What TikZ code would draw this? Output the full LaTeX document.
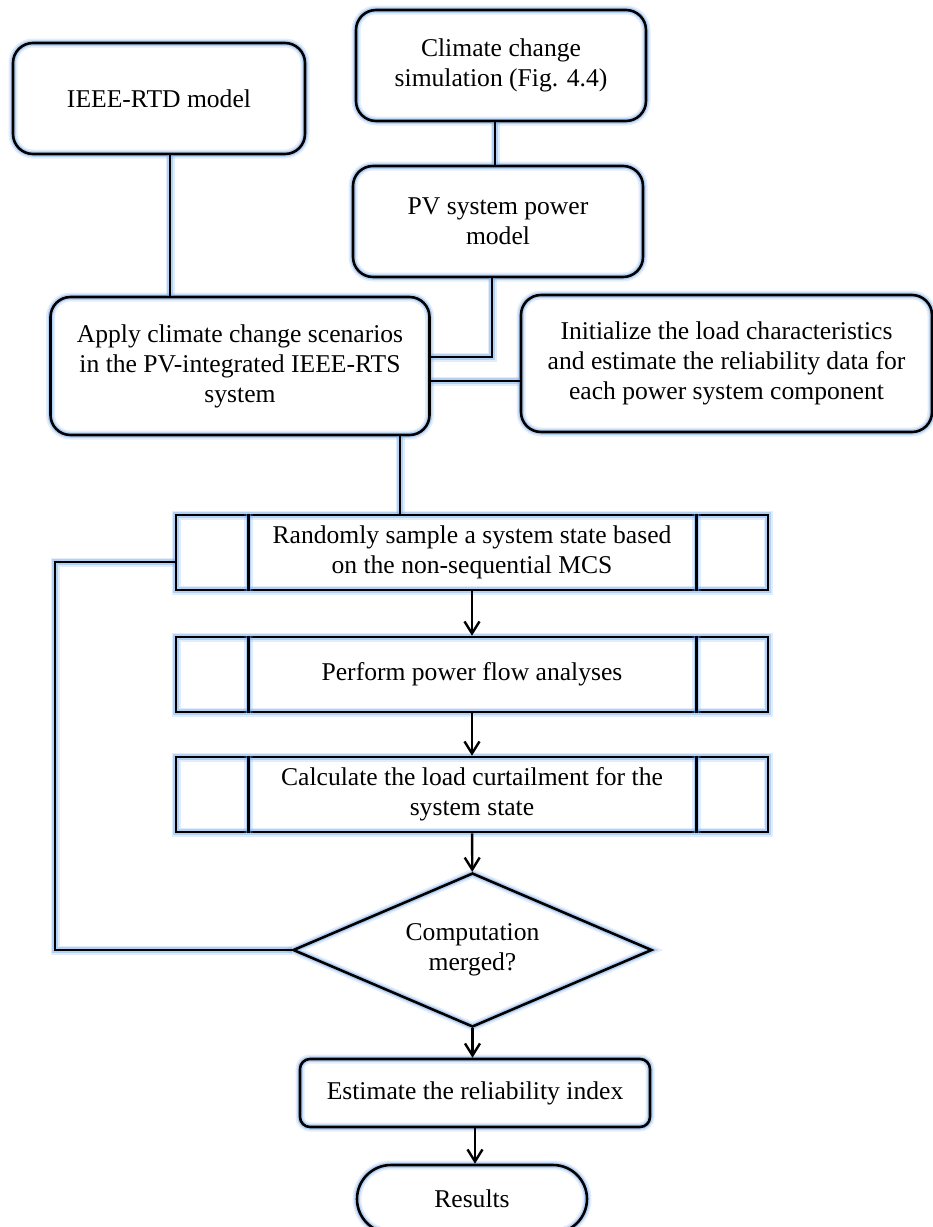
\documentclass[tikz,border=0pt]{standalone}
\usepackage{fontspec}
\setmainfont{Liberation Serif}
\usetikzlibrary{shapes.geometric,arrows.meta,calc}
\definecolor{glowblue}{RGB}{110,165,235}
\tikzset{
    glow/.style={preaction={draw=glowblue, line width=9pt, opacity=0.2},
                 preaction={draw=glowblue, line width=5.5pt, opacity=0.4}}
}
\begin{document}
\begin{tikzpicture}[x=1pt, y=-1pt,
    font=\fontsize{25.6}{30}\selectfont,
    module/.style={draw, glow, line width=2.6pt, rectangle, rounded corners=20pt, align=center, inner sep=0pt},
    process/.style={draw, glow, line width=2.6pt, rectangle, minimum width=592pt, minimum height=75pt, align=center, inner sep=0pt},
    decision/.style={draw, glow, line width=2.6pt, diamond, aspect=2.33, minimum width=359pt, minimum height=154pt, align=center, inner sep=0pt},
    link/.style={glow, line width=2.6pt},
    arrow/.style={-{Straight Barb[length=12pt, width=15pt]}, line width=2.4pt}
]
    \useasboundingbox (0,0) rectangle (933,1227);

    % Modele de intrare
    \node[module, minimum width=292pt, minimum height=111pt] (rtd) at (159,98.5) {IEEE-RTD model};
    \node[module, minimum width=290pt, minimum height=111pt] (clim) at (501,65.5) {Climate change\\simulation (Fig. 4.4)};
    \node[module, minimum width=290pt, minimum height=111pt] (pv) at (498,221.5) {PV system power\\model};

    % Pregatire sistem
    \node[module, minimum width=379pt, minimum height=138pt] (apply) at (240,366) {Apply climate change scenarios\\in the PV-integrated IEEE-RTS\\system};
    \node[module, minimum width=411pt, minimum height=137pt] (init) at (726.5,363.5) {Initialize the load characteristics\\and estimate the reliability data for\\each power system component};

    % Bucla MCS
    \node[process] (rand) at (472,552.5) {Randomly sample a system state based\\on the non-sequential MCS};
    \node[process] (perf) at (472,674.5) {Perform power flow analyses};
    \node[process] (calc) at (472,794.5) {Calculate the load curtailment for the\\system state};
    \node[decision] (dec) at (472.5,950) {Computation\\merged?};

    % Iesire
    \node[module, rounded corners=10pt, minimum width=350pt, minimum height=68pt] (est) at (475,1093) {Estimate the reliability index};
    \node[module, rounded corners=34pt, minimum width=230pt, minimum height=68pt] (res) at (472,1199) {Results};

    % Liniile interioare ale proceselor
    \foreach \n in {rand,perf,calc} {
        \draw[link] ($(\n.north west)+(74,0)$) -- ($(\n.south west)+(74,0)$);
        \draw[link] ($(\n.north east)+(-73,0)$) -- ($(\n.south east)+(-73,0)$);
    }

    % Legaturi intre modele
    \draw[link] ([xshift=11pt]rtd.south) -- ([xshift=11pt]rtd.south |- apply.north);
    \draw[link] ([xshift=-6pt]clim.south) -- ([xshift=-6pt]clim.south |- pv.north);
    \draw[link] ([xshift=-6pt]pv.south) |- ([yshift=9pt]apply.east);
    \draw[link] ([yshift=-17.5pt]init.west) -- ([yshift=-17.5pt]init.west -| apply.east);
    \draw[link] ([xshift=160pt]apply.south) -- ([xshift=160pt]apply.south |- rand.north);

    % Fluxul principal
    \draw[arrow] (rand) -- (perf);
    \draw[arrow] (perf) -- (calc);
    \draw[arrow] (calc) -- (dec);
    \draw[arrow] (dec.south) -- (dec.south |- est.north);
    \draw[arrow] (est.south) -- (est.south |- res.north);

    % Revenire la esantionare
    \coordinate (loop) at (55,562);
    \draw[link] (dec.west) -| (loop) -- (loop -| rand.west);
\end{tikzpicture}
\end{document}
